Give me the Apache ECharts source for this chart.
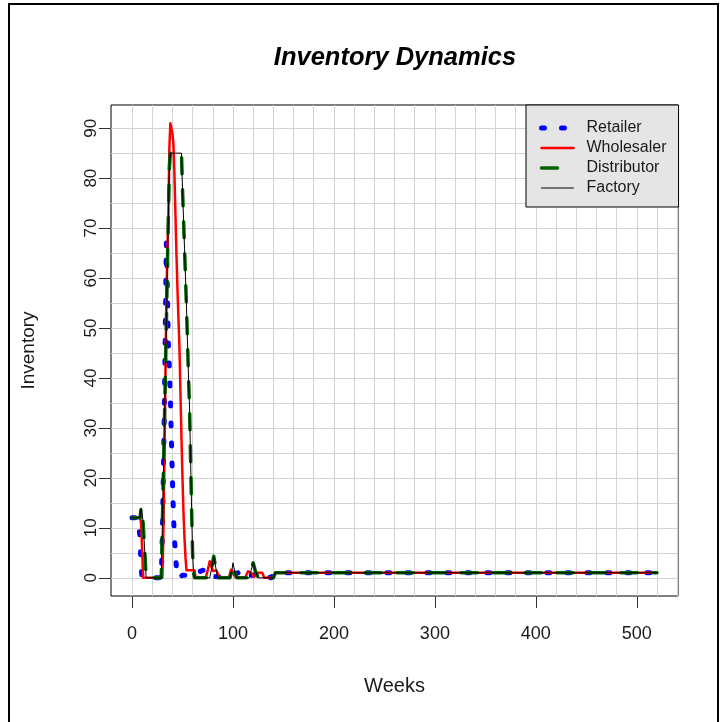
<!DOCTYPE html>
<html>
<head>
<meta charset="utf-8">
<script src="https://cdn.jsdelivr.net/npm/echarts@6/dist/echarts.min.js"></script>
<style>
  html, body { margin: 0; padding: 0; background: #ffffff; }
  #chart { width: 722px; height: 722px; }
</style>
</head>
<body>
<div id="chart"></div>
<script>
// Weekly inventory of the four supply-chain stages, [week, units] at each vertex
const retailer = [
  [0, 12], [6, 12], [8, 8], [9, 2], [10, 0], [29, 0], [30, 8], [31, 20], [32, 33],
  [33, 50], [34, 67], [35, 58], [36, 47], [37, 42], [38, 36], [39, 28], [40, 20],
  [41, 13], [42, 8], [43, 5], [44, 2], [45, 0], [50, 0.5], [62, 0.5], [64, 1],
  [70, 1.5], [75, 1.5], [77, 0.3], [90, 0.2], [95, 0.2], [105, 1], [108, 1.5],
  [112, 1.5], [115, 0.5], [120, 0.5], [125, 1], [130, 0.5], [138, 0], [141, 1], [520, 1]
];
const wholesaler = [
  [0, 12], [8, 12], [9, 11], [10, 6], [11, 0], [30, 0], [31, 8], [32, 22], [33, 38],
  [34, 55], [35, 65], [36, 72], [37, 86], [38, 91], [39, 90], [40, 89], [41, 87],
  [42, 81], [43, 73], [44, 65], [45, 58], [46, 52], [47, 46], [48, 37], [49, 28],
  [50, 20], [51, 13], [52, 8], [53, 4], [54, 1.5], [62, 1.5], [63, 0], [73, 0],
  [75, 1.5], [77, 3.3], [78, 3.3], [80, 1.4], [84, 1.4], [86, 0], [96, 0], [98, 1.6],
  [100, 1], [103, 0], [112, 0], [115, 1.3], [118, 1], [121, 0.2], [125, 1], [129, 1],
  [131, 0], [140, 0], [142, 1], [520, 1]
];
const distributor = [
  [0, 12], [8, 12], [9, 14], [10, 13], [11, 11], [13, 4], [14, 0], [29, 0], [30, 10],
  [31, 20], [32, 30], [33, 40], [34, 50], [35, 62], [36, 72], [37, 82], [38, 85],
  [49, 85], [50, 78], [51, 72], [52, 66], [53, 60], [54, 54], [55, 47], [56, 40],
  [57, 34], [58, 24], [59, 14], [60, 5], [61, 1], [62, 0], [77, 0], [79, 2], [81, 4.3],
  [83, 2], [85, 0], [97, 0], [99, 1.5], [100, 2.6], [102, 1], [104, 0], [116, 0],
  [118, 1.5], [120, 3], [122, 1.5], [125, 0], [140, 0], [142, 1], [520, 1]
];
const factory = [
  [0, 12], [8, 12], [9, 14], [10, 13], [11, 11], [13, 4], [14, 0], [29, 0], [30, 10],
  [31, 20], [32, 30], [33, 40], [34, 50], [35, 62], [36, 72], [37, 82], [38, 85],
  [49, 85], [50, 78], [51, 72], [52, 66], [53, 60], [54, 54], [55, 47], [56, 40],
  [57, 34], [58, 24], [59, 14], [60, 5], [61, 1], [62, 0], [77, 0], [79, 2], [81, 4.2],
  [83, 2], [85, 0], [97, 0], [99, 1.5], [100, 3], [102, 1], [104, 0], [116, 0],
  [118, 1.5], [120, 3], [122, 1.5], [125, 0], [140, 0], [142, 1], [520, 1]
];

const seriesNames = ['Retailer', 'Wholesaler', 'Distributor', 'Factory'];

// Axis ticks, labels and reference grid
const weekTicks = [0, 100, 200, 300, 400, 500];
const inventoryTicks = [0, 10, 20, 30, 40, 50, 60, 70, 80, 90];
const weekGrid = [0, 20, 40, 60, 80, 100, 120, 140, 160, 180, 200, 220, 240, 260, 280,
  300, 320, 340, 360, 380, 400, 420, 440, 460, 480, 500, 520, 540];
const inventoryGrid = [0, 5, 10, 15, 20, 25, 30, 35, 40, 45, 50, 55, 60, 65, 70, 75,
  80, 85, 90];

// Plot ranges padded 4% beyond the data on each side
const weekMin = -20.8, weekMax = 540.8;
const invMin = -3.64, invMax = 94.64;

const FONT = '"Liberation Sans", Arial, Helvetica, sans-serif';
const INK = '#1a1a1a';
const GRID_GRAY = '#d3d3d3';

const chart = echarts.init(document.getElementById('chart'), null, { renderer: 'canvas' });

function lineSeries(name, data, color, width, type, cap) {
  return {
    name: name,
    type: 'line',
    data: data,
    xAxisIndex: 0,
    yAxisIndex: 0,
    symbol: 'none',
    smooth: false,
    silent: true,
    lineStyle: { color: color, width: width, type: type, cap: cap, join: 'round' },
    itemStyle: { color: color },
    emphasis: { disabled: true }
  };
}

chart.setOption({
  animation: false,
  backgroundColor: '#ffffff',
  title: {
    text: 'Inventory Dynamics',
    left: 390,
    top: 40,
    textAlign: 'center',
    textStyle: { fontFamily: FONT, fontSize: 25.5, fontWeight: 'bold', fontStyle: 'italic', color: '#000' }
  },
  graphic: [{
    type: 'rect',
    silent: true,
    z: 100,
    shape: { x: 9, y: 4, width: 709, height: 740 },
    style: { fill: 'none', stroke: '#000', lineWidth: 2 }
  }],
  legend: {
    orient: 'vertical',
    left: 526,
    top: 105,
    selectedMode: false,
    backgroundColor: '#e5e5e5',
    borderColor: '#000',
    borderWidth: 1,
    borderRadius: 0,
    padding: [15, 12, 11, 13],
    itemWidth: 32,
    itemHeight: 14,
    itemGap: 4,
    itemStyle: { opacity: 0 },
    lineStyle: { width: 'inherit' },
    textStyle: { fontFamily: FONT, fontSize: 16, color: INK, padding: [0, 0, 0, 8] },
    data: seriesNames
  },
  grid: {
    left: 111,
    right: 44,
    top: 105,
    bottom: 126,
    show: true,
    backgroundColor: '#ffffff',
    borderColor: '#000',
    borderWidth: 1,
    containLabel: false,
    outerBoundsMode: 'none'
  },
  xAxis: [{
    type: 'value',
    min: weekMin,
    max: weekMax,
    position: 'bottom',
    axisLine: { show: false, onZero: false },
    axisTick: { show: true, length: 12, customValues: weekTicks, lineStyle: { color: '#333', width: 1 } },
    axisLabel: { customValues: weekTicks, margin: 29, fontFamily: FONT, fontSize: 18, color: INK },
    splitLine: { show: false },
    name: 'Weeks',
    nameLocation: 'middle',
    nameGap: 80,
    nameTextStyle: { fontFamily: FONT, fontSize: 20, color: INK }
  }, {
    type: 'value',
    min: weekMin,
    max: weekMax,
    position: 'bottom',
    axisLine: { show: false, onZero: false },
    axisTick: { show: false, customValues: weekGrid },
    axisLabel: { show: false, customValues: weekGrid },
    splitLine: { show: true, lineStyle: { color: GRID_GRAY, width: 1 } }
  }],
  yAxis: [{
    type: 'value',
    min: invMin,
    max: invMax,
    position: 'left',
    axisLine: { show: false, onZero: false },
    axisTick: { show: true, length: 12, customValues: inventoryTicks, lineStyle: { color: '#333', width: 1 } },
    axisLabel: { customValues: inventoryTicks, rotate: 90, margin: 11, fontFamily: FONT, fontSize: 17, color: INK },
    splitLine: { show: false },
    name: 'Inventory',
    nameLocation: 'middle',
    nameGap: 73,
    nameRotate: 90,
    nameTextStyle: { fontFamily: FONT, fontSize: 19, color: INK }
  }, {
    type: 'value',
    min: invMin,
    max: invMax,
    position: 'left',
    axisLine: { show: false, onZero: false },
    axisTick: { show: false, customValues: inventoryGrid },
    axisLabel: { show: false, customValues: inventoryGrid },
    splitLine: { show: true, lineStyle: { color: GRID_GRAY, width: 1 } }
  }],
  series: [
    lineSeries('Retailer', retailer, '#0000ff', 5, [3, 17], 'round'),
    lineSeries('Wholesaler', wholesaler, '#ff0000', 2.5, 'solid', 'round'),
    lineSeries('Distributor', distributor, '#006400', 3.5, [16, 16], 'round'),
    lineSeries('Factory', factory, '#000000', 1, 'solid', 'round')
  ]
});
</script>
</body>
</html>
